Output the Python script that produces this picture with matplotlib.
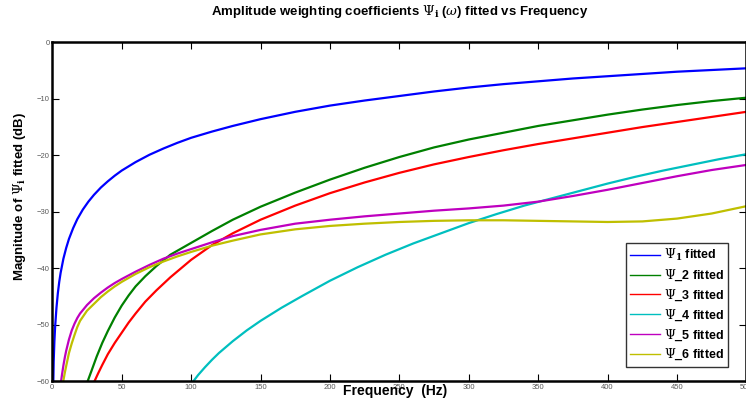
"""Amplitude weighting coefficients fitted vs frequency."""

import matplotlib

matplotlib.use("Agg")
import matplotlib.pyplot as plt
from matplotlib.lines import Line2D

plt.rcParams["font.family"] = ["Liberation Sans", "DejaVu Sans"]
plt.rcParams["mathtext.fontset"] = "dejavuserif"

# values (Hz, dB)
freq_1 = [0.6, 1, 1.5, 2, 3, 4, 5, 6, 8, 10, 12, 15, 18, 22, 26, 30, 35, 40, 45, 50, 60, 70, 80,
          90, 100, 115, 130, 150, 175, 200, 225, 250, 275, 300, 325, 350, 375, 400, 425, 450, 475, 500]
psi_1 = [-62, -56.5, -53, -50.5, -47, -44.4, -42.4, -40.8, -38.3, -36.4, -34.8, -32.9, -31.3,
         -29.6, -28.2, -27.0, -25.7, -24.6, -23.6, -22.7, -21.2, -19.9, -18.8, -17.8, -16.9,
         -15.8, -14.8, -13.6, -12.3, -11.2, -10.3, -9.5, -8.7, -8.0, -7.4, -6.9, -6.4, -6.0,
         -5.6, -5.2, -4.9, -4.6]

freq_2 = [25, 28, 32, 36, 40, 45, 50, 55, 60, 67, 75, 85, 100, 115, 130, 150, 175, 200, 225,
          250, 275, 300, 325, 350, 375, 400, 425, 450, 475, 500]
psi_2 = [-60.3, -58.3, -55.6, -53.2, -51.1, -48.7, -46.6, -44.8, -43.2, -41.4, -39.6, -37.6,
         -35.5, -33.4, -31.4, -29.1, -26.6, -24.3, -22.2, -20.3, -18.6, -17.2, -16.0, -14.8,
         -13.8, -12.8, -11.9, -11.1, -10.4, -9.8]

freq_3 = [30, 33, 36, 40, 45, 50, 55, 60, 67, 75, 85, 100, 115, 130, 150, 175, 200, 225, 250,
          275, 300, 325, 350, 375, 400, 425, 450, 475, 500]
psi_3 = [-60.2, -58.6, -57.1, -55.2, -53.2, -51.4, -49.6, -48.0, -45.9, -43.9, -41.6, -38.5,
         -35.9, -33.8, -31.4, -28.9, -26.7, -24.8, -23.1, -21.6, -20.3, -19.1, -18.0, -17.0,
         -16.0, -15.0, -14.1, -13.2, -12.3]

freq_4 = [101, 105, 110, 115, 120, 130, 140, 150, 165, 180, 200, 220, 240, 260, 280, 300, 320,
          340, 360, 380, 400, 420, 440, 460, 480, 500]
psi_4 = [-60.2, -58.9, -57.5, -56.2, -55.0, -52.9, -51.0, -49.3, -47.0, -44.9, -42.2, -39.8,
         -37.6, -35.6, -33.8, -32.0, -30.4, -28.9, -27.6, -26.3, -25.0, -23.8, -22.7, -21.7,
         -20.7, -19.8]

freq_5 = [6, 7, 8, 9, 10, 12, 14, 16, 18, 20, 25, 30, 35, 40, 45, 50, 60, 70, 80, 90, 100,
          115, 130, 150, 175, 200, 225, 250, 275, 300, 325, 350, 375, 400, 425, 450, 475, 500]
psi_5 = [-60.6, -58.8, -57.2, -55.8, -54.6, -52.6, -51.0, -49.8, -48.8, -48.0, -46.5, -45.3,
         -44.3, -43.4, -42.6, -41.9, -40.6, -39.4, -38.3, -37.4, -36.6, -35.4, -34.3, -33.2,
         -32.1, -31.4, -30.8, -30.3, -29.8, -29.4, -28.9, -28.2, -27.2, -26.1, -24.9, -23.7,
         -22.6, -21.7]

freq_6 = [7.6, 9, 10, 12, 14, 16, 18, 20, 25, 30, 35, 40, 45, 50, 60, 70, 80, 90, 100, 115, 130,
          150, 175, 200, 225, 250, 275, 300, 325, 350, 375, 400, 425, 450, 475, 500]
psi_6 = [-60.4, -58.5, -57.3, -55.0, -53.3, -51.8, -50.4, -49.3, -47.5, -46.3, -45.1, -44.1,
         -43.2, -42.4, -41.0, -39.8, -38.8, -37.9, -37.1, -36.0, -35.1, -34.0, -33.1, -32.5,
         -32.1, -31.8, -31.6, -31.5, -31.5, -31.6, -31.7, -31.8, -31.7, -31.2, -30.3, -29.0]

colors = [(0, 0, 1), (0, 0.5, 0), (1, 0, 0), (0, 0.75, 0.75), (0.75, 0, 0.75), (0.75, 0.75, 0)]
labels = [r"$\Psi_{\mathbf{1}}$ fitted", r"$\Psi$_2 fitted", r"$\Psi$_3 fitted",
          r"$\Psi$_4 fitted", r"$\Psi$_5 fitted", r"$\Psi$_6 fitted"]
series = [(freq_1, psi_1), (freq_2, psi_2), (freq_3, psi_3),
          (freq_4, psi_4), (freq_5, psi_5), (freq_6, psi_6)]

fig = plt.figure(figsize=(7.46, 4.05), dpi=100)
ax = fig.add_axes([0.0701, 0.0585, 0.9305, 0.837])

for (f, v), c in zip(series, colors):
    ax.plot(f, v, color=c, linewidth=1.6, solid_joinstyle="round")

ax.set_xlim(0, 500)
ax.set_ylim(-60, 0)
ax.set_xticks(range(0, 501, 50))
ax.set_yticks(range(-60, 1, 10))
ax.tick_params(direction="in", length=5, width=0.8, labelsize=5.5, labelcolor="0.35",
               top=True, right=True, pad=2)
for spine in ax.spines.values():
    spine.set_linewidth(1.8)

ax.set_title(r"Amplitude weighting coefficients $\Psi_{\mathbf{i}}$ ($\omega$) fitted vs Frequency",
             fontsize=9.5, fontweight="bold", pad=20)
ax.set_xlabel("Frequency  (Hz)", fontsize=10, fontweight="bold")
ax.xaxis.set_label_coords(0.494, -0.03)
ax.xaxis.label.set_verticalalignment("center")
ax.set_ylabel(r"Magnitude of $\Psi_{\mathbf{i}}$ fitted (dB)", fontsize=9.5, fontweight="bold")
ax.yaxis.set_label_coords(-0.047, 0.545)
ax.yaxis.label.set_verticalalignment("center")

handles = [Line2D([], [], color=c, linewidth=1.0) for c in colors]
leg = ax.legend(handles, labels, loc="lower right", bbox_to_anchor=(0.9735, 0.043),
                prop={"weight": "bold", "size": 9}, frameon=True, fancybox=False,
                handlelength=2.4, handletextpad=0.3, labelspacing=0.35, borderpad=0.35,
                borderaxespad=0)
leg.get_frame().set_edgecolor("black")
leg.get_frame().set_linewidth(1.0)

fig.savefig("out.png", dpi=100)
